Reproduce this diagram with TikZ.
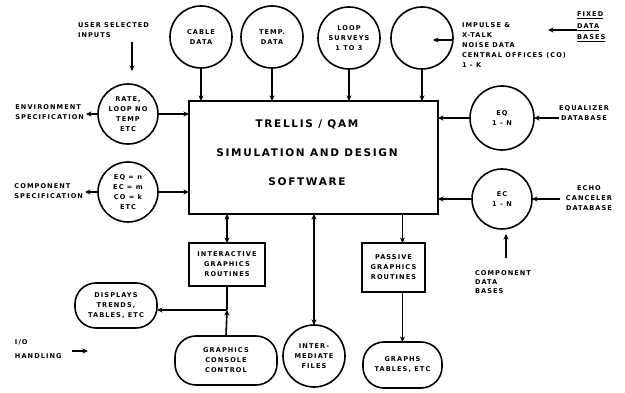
\documentclass[tikz,border=0pt]{standalone}
\usepackage{fontspec}
\setmainfont{DejaVu Sans}
\newfontfamily\lblfont[LetterSpace=16]{DejaVu Sans}
\usetikzlibrary{arrows.meta,calc}
\begin{document}
\begin{tikzpicture}[x=1pt,y=-1pt,
  every node/.style={inner sep=0pt, outer sep=0pt},
  ln/.style={line width=1.6pt},
  tip/.style={-{Stealth[length=5.5pt,width=5pt]}},
  arr/.style={ln,tip},
  darr/.style={ln,{Stealth[length=5.5pt,width=5pt]}-{Stealth[length=5.5pt,width=5pt]}},
  txt/.style={font=\lblfont\bfseries\fontsize{6.6}{10}\selectfont, align=center},
  disc/.style={txt, draw, ln, circle, minimum size=#1},
  disc/.default=62pt,
  boxnode/.style={txt, draw, ln, rectangle},
  pill/.style={txt, draw, ln, rectangle, rounded corners=21pt},
]
\useasboundingbox (0,0) rectangle (625,393);

% main box
\node[draw, ln, minimum width=249pt, minimum height=113pt] (main) at (313.5,157.5) {};
\node[font=\lblfont\bfseries\fontsize{10.5}{29}\selectfont, align=center] (maintxt) at (307,153)
  {TRELLIS / QAM\\SIMULATION AND DESIGN\\SOFTWARE};

% top circles
\node[disc] (cable) at (201,37) {CABLE\\DATA};
\node[disc] (temp) at (272,37) {TEMP.\\DATA};
\node[disc] (loop) at (349,38) {LOOP\\SURVEYS\\1 TO 3};
\node[disc] (imp) at (422,38) {};

\foreach \c in {cable,temp,loop,imp}
  \draw[arr] (\c.south) -- (\c.south |- main.north);

% impulse text and fixed data bases
\node[txt, align=left, anchor=west] (imptxt) at (462,45.5)
  {IMPULSE \&\\X-TALK\\NOISE DATA\\CENTRAL OFFICES (CO)\\1 - K};
\coordinate (ia) at (453,40);
\coordinate (ib) at (433,40);
\draw[arr] (ia) -- (ib);
\node[txt, align=left, anchor=west, font=\lblfont\bfseries\fontsize{6.6}{11.5}\selectfont] (fixed) at (577,27)
  {\underline{FIXED}\\\underline{DATA}\\\underline{BASES}};
\coordinate (fb) at (548,30);
\draw[arr] (fixed.west |- fb) -- (fb);

% user selected inputs
\node[txt, align=left, anchor=west] (user) at (78,30) {USER SELECTED\\INPUTS};
\coordinate (ua) at (132,42);
\coordinate (ub) at (132,71);
\draw[arr] (ua) -- (ub);

% left circles
\node[disc=60pt] (rate) at (128,114) {RATE,\\LOOP NO\\TEMP\\ETC};
\node[disc=60pt] (comp) at (128,192) {EQ = n\\EC = m\\CO = k\\ETC};
\draw[arr] (rate.east) -- (rate.east -| main.west);
\draw[arr] (comp.east) -- (comp.east -| main.west);
\node[txt, align=left, anchor=east] (env) at (84,112.5) {ENVIRONMENT\\SPECIFICATION};
\node[txt, align=left, anchor=east] (cspec) at (83,191.5) {COMPONENT\\SPECIFICATION};
\draw[arr, shorten >=2pt] (rate.west) -- (rate.west -| env.east);
\draw[arr, shorten >=2pt] (comp.west) -- (comp.west -| cspec.east);

% right circles
\node[disc=64pt] (eq) at (502,118) {EQ\\1 - N};
\node[disc=60pt] (ec) at (502,199) {EC\\1 - N};
\draw[arr] (eq.west) -- (eq.west -| main.east);
\draw[arr] (ec.west) -- (ec.west -| main.east);
\node[txt] (eqtxt) at (584,113) {EQUALIZER\\DATABASE};
\node[txt] (echo) at (589,198.5) {ECHO\\CANCELER\\DATABASE};
\draw[arr] (eqtxt.west |- eq.east) -- (eq.east);
\draw[arr, shorten <=6pt] (echo.west |- ec.east) -- (ec.east);
\node[txt, align=left, anchor=north west, font=\lblfont\bfseries\fontsize{6.6}{9}\selectfont] (cdata) at (475,271) {COMPONENT\\DATA\\BASES};
\coordinate (ca) at (506,258);
\coordinate (cb) at (506,234);
\draw[arr] (ca) -- (cb);

% bottom
\node[boxnode, minimum width=76pt, minimum height=43pt] (inter) at (227,264.5) {INTERACTIVE\\GRAPHICS\\ROUTINES};
\node[boxnode, minimum width=63pt, minimum height=49pt] (passive) at (393.5,267.5) {PASSIVE\\GRAPHICS\\ROUTINES};
\node[disc] (files) at (314,356) {INTER-\\MEDIATE\\FILES};
\node[pill, minimum width=82pt, minimum height=45pt] (displays) at (116,305.5) {DISPLAYS\\TRENDS,\\TABLES, ETC};
\node[pill, minimum width=102pt, minimum height=49pt] (console) at (226,360.5) {GRAPHICS\\CONSOLE\\CONTROL};
\node[pill, minimum width=79pt, minimum height=46pt] (graphs) at (402.5,365) {GRAPHS\\TABLES, ETC};

\draw[darr] (main.south -| inter.north) -- (inter.north);
\draw[darr] (main.south -| files.north) -- (files.north);
\draw[arr] (main.south -| graphs.north) -- (passive.north -| graphs.north);
\draw[arr] (passive.south -| graphs.north) -- (graphs.north);

\coordinate (J) at (227,310);
\draw[ln] (inter.south) -- (J);
\draw[arr] (console.north) -- (J);
\draw[arr] (J) -- (J -| displays.east);

% I/O handling
\node[txt, align=left, anchor=west, font=\lblfont\bfseries\fontsize{6.6}{14}\selectfont] (io) at (15,349.5) {I/O\\HANDLING};
\coordinate (ioa) at (72,351);
\coordinate (iob) at (88,351);
\draw[arr] (ioa) -- (iob);
\end{tikzpicture}
\end{document}
